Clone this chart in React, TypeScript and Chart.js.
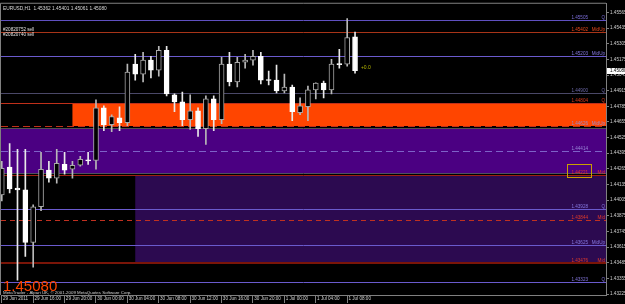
import React, { useEffect, useRef } from "react";
import { Chart, registerables } from "chart.js";

Chart.register(...registerables);

// ---------- data ----------
const chartTitle = "EURUSD,H1  1.45362 1.45401 1.45061 1.45080";
const orderLabels = ["#20820752 sell", "#20820740 sell"];
const copyrightText = "MetaTrader - Alpari UK, \u00a9 2001-2009 MetaQuotes Software Corp.";
const bigPriceText = "1.45080";
const profitText = "+0.0";

const timeLabels = [
  "29 Jun 2011", "29 Jun 16:00", "29 Jun 20:00", "30 Jun 00:00", "30 Jun 04:00", "30 Jun 08:00",
  "30 Jun 12:00", "30 Jun 16:00", "30 Jun 20:00", "1 Jul 00:00", "1 Jul 04:00", "1 Jul 08:00",
];
const timeLabelBars = [0, 4, 8, 12, 16, 20, 24, 28, 32, 36, 40, 44];

const opens = [
  1.44048, 1.44279, 1.44106, 1.4409, 1.43653, 1.4395, 1.44254, 1.44188, 1.44303, 1.44262,
  1.44295, 1.4434, 1.44336, 1.44773, 1.44633, 1.4469, 1.44649, 1.45135, 1.45052, 1.45168,
  1.45085, 1.4525, 1.4488, 1.44822, 1.44674, 1.44748, 1.446, 1.44847, 1.44674, 1.45135,
  1.44987, 1.45151, 1.45168, 1.45201, 1.45007, 1.45003, 1.44913, 1.44945, 1.44731, 1.44781,
  1.44921, 1.44978, 1.44921, 1.45139, 1.45135, 1.45362,
];
const highs = [
  1.44328, 1.44476, 1.44427, 1.44427, 1.43966, 1.44402, 1.44328, 1.44427, 1.44402, 1.44328,
  1.44369, 1.44402, 1.44838, 1.44789, 1.44715, 1.44781, 1.45135, 1.45217, 1.45233, 1.45201,
  1.45283, 1.45283, 1.44888, 1.44904, 1.4488, 1.44773, 1.44871, 1.44871, 1.45192, 1.45233,
  1.45192, 1.45217, 1.4525, 1.45233, 1.45077, 1.45127, 1.45052, 1.44962, 1.44855, 1.44954,
  1.4498, 1.44995, 1.45176, 1.45258, 1.45513, 1.45401,
];
const lows = [
  1.43999, 1.44065, 1.43341, 1.43538, 1.43448, 1.43917, 1.44155, 1.44147, 1.44221, 1.44188,
  1.44287, 1.44303, 1.44262, 1.44583, 1.44575, 1.44583, 1.44624, 1.45003, 1.44987, 1.4502,
  1.45036, 1.44871, 1.4474, 1.44624, 1.44592, 1.44534, 1.44468, 1.44583, 1.44641, 1.44954,
  1.44945, 1.45102, 1.45127, 1.4497, 1.44962, 1.44896, 1.44896, 1.44666, 1.44715, 1.44666,
  1.44847, 1.44855, 1.44888, 1.45102, 1.45118, 1.45061,
];
const closes = [
  1.4427, 1.44098, 1.4409, 1.43653, 1.4395, 1.44262, 1.44188, 1.44312, 1.44254, 1.44295,
  1.44345, 1.44332, 1.44773, 1.44633, 1.44699, 1.44649, 1.45069, 1.45052, 1.45168, 1.45085,
  1.4525, 1.44888, 1.44822, 1.44674, 1.44748, 1.446, 1.44847, 1.44674, 1.45135, 1.44987,
  1.45151, 1.45168, 1.45201, 1.45003, 1.44999, 1.44913, 1.44945, 1.4474, 1.44789, 1.44921,
  1.44978, 1.44921, 1.45135, 1.45131, 1.45357, 1.4508,
];

const priceTicks = [
  1.43225, 1.43355, 1.43485, 1.43615, 1.43745, 1.43875, 1.44005, 1.44135, 1.44265, 1.44395,
  1.44525, 1.44655, 1.44785, 1.44915, 1.45045, 1.45175, 1.45305, 1.45435, 1.45565,
];

const levelValues = [
  1.45505, 1.45406, 1.45201, 1.44896, 1.44813, 1.44624, 1.44608, 1.4441, 1.44229, 1.44213,
  1.43933, 1.43842, 1.43629, 1.43481, 1.43325,
];
const levelPriceLabels = [
  "1.45505", "1.45402", "1.45203", "1.44900", "1.44804", "1.44626", "", "1.44414", "", "1.44221",
  "1.43928", "1.43844", "1.43625", "1.43476", "1.43323",
];
const levelTags = ["Q", "MidUp", "MidUp", "Q", "Q", "MidUp", "", "", "", "Mid", "Q", "Mid", "MidUp", "Mid", "Q"];
const highlightedLevel = 9;

const zoneTops = [1.44813, 1.446, 1.44205];
const zoneBottoms = [1.44624, 1.44229, 1.43481];
const zoneStartBars = [9, null, 17];

// ---------- styles ----------
const levelStyles = [
  { line: "#5F50C0", text: "#7A6CD8", dash: [], width: 1 },
  { line: "#A83418", text: "#E8481C", dash: [], width: 1 },
  { line: "#6A5ACD", text: "#8678E0", dash: [], width: 1 },
  { line: "#4A4868", text: "#6C68A8", dash: [], width: 1 },
  { line: "#C0301A", text: "#D83A1C", dash: [], width: 1 },
  { line: "#C0301A", text: "#9C8CCC", dash: [7, 4], width: 1 },
  { line: "#505050", text: "#9C8CCC", dash: [], width: 1 },
  { line: "#7E62C8", text: "#9A86D8", dash: [7, 4], width: 1 },
  { line: "#505060", text: "#9C8CCC", dash: [], width: 1 },
  { line: "#A02010", text: "#E03A2A", dash: [], width: 1 },
  { line: "#6A5ACD", text: "#8678E0", dash: [], width: 1 },
  { line: "#C03020", text: "#E03A2A", dash: [5, 4], width: 1 },
  { line: "#6A5ACD", text: "#8678E0", dash: [], width: 1 },
  { line: "#7A1508", text: "#E03A2A", dash: [], width: 2 },
  { line: "#6A5ACD", text: "#8678E0", dash: [], width: 1 },
];
const zoneColors = ["#FF4500", "#4B0082", "#2C0A50"];
const FONT = "'Liberation Sans', Arial, sans-serif";

const overlay = {
  id: "mtOverlay",
  beforeDraw(chart: any) {
    const { ctx, width, height } = chart;
    ctx.save();
    ctx.fillStyle = "#000000";
    ctx.fillRect(0, 0, width, height);
    ctx.restore();
  },
  beforeDatasetsDraw(chart: any) {
    const { ctx, chartArea: a } = chart;
    const x = chart.scales.x;
    const y = chart.scales.y;
    ctx.save();
    ctx.beginPath();
    ctx.rect(a.left, a.top, a.right - a.left, a.bottom - a.top);
    ctx.clip();
    zoneTops.forEach((top, i) => {
      const sb = zoneStartBars[i];
      const x0 = sb === null ? a.left : x.getPixelForValue(sb);
      const y0 = Math.round(y.getPixelForValue(top));
      const y1 = Math.round(y.getPixelForValue(zoneBottoms[i]));
      ctx.fillStyle = zoneColors[i];
      ctx.fillRect(x0, y0, a.right - x0, y1 - y0);
    });
    levelValues.forEach((v, i) => {
      const st = levelStyles[i];
      const py = Math.round(y.getPixelForValue(v)) + (st.width === 1 ? 0.5 : 0);
      ctx.strokeStyle = st.line;
      ctx.lineWidth = st.width;
      ctx.setLineDash(st.dash);
      ctx.beginPath();
      ctx.moveTo(a.left, py);
      ctx.lineTo(a.right, py);
      ctx.stroke();
    });
    ctx.setLineDash([]);
    ctx.font = `4.6px ${FONT}`;
    ctx.textBaseline = "alphabetic";
    ctx.textAlign = "right";
    levelValues.forEach((v, i) => {
      const st = levelStyles[i];
      const py = Math.round(y.getPixelForValue(v)) - 1;
      ctx.fillStyle = st.text;
      if (levelPriceLabels[i]) ctx.fillText(levelPriceLabels[i], a.right - 18, py);
      if (levelTags[i]) ctx.fillText(levelTags[i], a.right - 1, py);
      if (i === highlightedLevel) {
        const w = ctx.measureText(levelPriceLabels[i]).width;
        ctx.strokeStyle = "#C8A000";
        ctx.lineWidth = 1;
        ctx.strokeRect(Math.round(a.right - 18 - w - 4) + 0.5, py - 9.5, Math.round(w + 7), 13);
      }
    });
    ctx.restore();
  },
  afterDraw(chart: any) {
    const { ctx, chartArea: a } = chart;
    const x = chart.scales.x;
    const y = chart.scales.y;
    ctx.save();
    ctx.strokeStyle = "#808080";
    ctx.lineWidth = 1;
    ctx.beginPath();
    ctx.moveTo(a.left - 0.5, a.bottom);
    ctx.lineTo(a.left - 0.5, a.top - 0.5);
    ctx.lineTo(a.right, a.top - 0.5);
    ctx.stroke();

    ctx.textAlign = "left";
    ctx.textBaseline = "alphabetic";
    ctx.fillStyle = "#D8D8D8";
    ctx.font = `4.8px ${FONT}`;
    ctx.fillText(chartTitle, a.left + 2, a.top + 6);
    ctx.font = `4.6px ${FONT}`;
    ctx.fillStyle = "#E0E0E0";
    ctx.fillText(orderLabels[0], a.left + 2, a.top + 27);
    ctx.fillText(orderLabels[1], a.left + 2, a.top + 32);

    const last = closes.length - 1;
    ctx.fillStyle = "#B4B400";
    ctx.font = `5px ${FONT}`;
    ctx.textBaseline = "middle";
    ctx.fillText(profitText, x.getPixelForValue(last + 0.75), y.getPixelForValue(closes[last]) - 3);

    const cy = Math.round(y.getPixelForValue(closes[last]));
    ctx.fillStyle = "#FFFFFF";
    ctx.fillRect(a.right + 1, cy - 3, 20, 6);
    ctx.fillStyle = "#000000";
    ctx.font = `4.6px ${FONT}`;
    ctx.fillText(closes[last].toFixed(5), a.right + 4, cy);

    ctx.textBaseline = "alphabetic";
    ctx.fillStyle = "#FF4500";
    ctx.font = `15px ${FONT}`;
    ctx.fillText(bigPriceText, a.left + 2, a.bottom - 4);
    ctx.fillStyle = "#D0D0D0";
    ctx.font = `4.4px ${FONT}`;
    ctx.fillText(copyrightText, a.left + 2, a.bottom - 1.5);
    ctx.restore();
  },
};

export default function App() {
  const ref = useRef<HTMLCanvasElement | null>(null);
  useEffect(() => {
    document.body.style.margin = "0";
    document.body.style.background = "#000";
    const canvas = ref.current;
    if (!canvas) return;
    const idx = opens.map((_, i) => i);
    const bull = idx.map((i) => closes[i] > opens[i]);
    const chart = new Chart(canvas, {
      type: "bar",
      data: {
        datasets: [
          {
            label: "wick",
            data: idx.map((i) => ({ x: i, y: [lows[i], highs[i]] })) as any,
            backgroundColor: idx.map((i) => (bull[i] ? "#B8B8B8" : "#E8E8E8")),
            borderWidth: 0,
            barThickness: 1,
            grouped: false,
            order: 2,
          } as any,
          {
            label: "body",
            data: idx.map((i) => ({ x: i, y: [opens[i], closes[i]] })) as any,
            backgroundColor: idx.map((i) => (bull[i] ? "#000000" : "#FFFFFF")),
            borderColor: idx.map((i) => (bull[i] ? "#A8A8A8" : "#FFFFFF")),
            borderWidth: 1,
            borderSkipped: false,
            barThickness: 5,
            grouped: false,
            order: 1,
          } as any,
        ],
      },
      options: {
        responsive: false,
        animation: false,
        devicePixelRatio: 1,
        layout: { padding: { left: 1, top: 1, right: 0, bottom: 0 } },
        plugins: { legend: { display: false }, tooltip: { enabled: false } },
        scales: {
          x: {
            type: "linear",
            min: -0.1,
            max: 76.97,
            offset: false,
            afterBuildTicks: (s: any) => {
              s.ticks = timeLabelBars.map((v) => ({ value: v }));
            },
            afterFit: (s: any) => {
              s.height = 9;
            },
            ticks: {
              autoSkip: false,
              maxRotation: 0,
              minRotation: 0,
              align: "start",
              padding: -7,
              color: "#D0D0D0",
              font: { family: FONT, size: 4.6 },
              callback: (_v: any, i: number) => " " + timeLabels[i],
            },
            grid: { drawOnChartArea: false, offset: false, tickLength: 8, color: "#808080" },
            border: { color: "#808080" },
          } as any,
          y: {
            type: "linear",
            position: "right",
            min: 1.43217,
            max: 1.45637,
            beginAtZero: false,
            afterBuildTicks: (s: any) => {
              s.ticks = priceTicks.map((v) => ({ value: v }));
            },
            afterFit: (s: any) => {
              s.width = 19;
            },
            ticks: {
              padding: 1,
              color: "#D0D0D0",
              font: { family: FONT, size: 4.6 },
              callback: (v: any) => Number(v).toFixed(5),
            },
            grid: { drawOnChartArea: false, tickLength: 3, color: "#808080" },
            border: { color: "#808080" },
          } as any,
        },
      },
      plugins: [overlay],
    });
    return () => chart.destroy();
  }, []);
  return (
    <div style={{ position: "fixed", left: 0, top: 0, width: 625, height: 304, background: "#000" }}>
      <canvas ref={ref} width={625} height={304} style={{ width: 625, height: 304, display: "block" }} />
    </div>
  );
}
